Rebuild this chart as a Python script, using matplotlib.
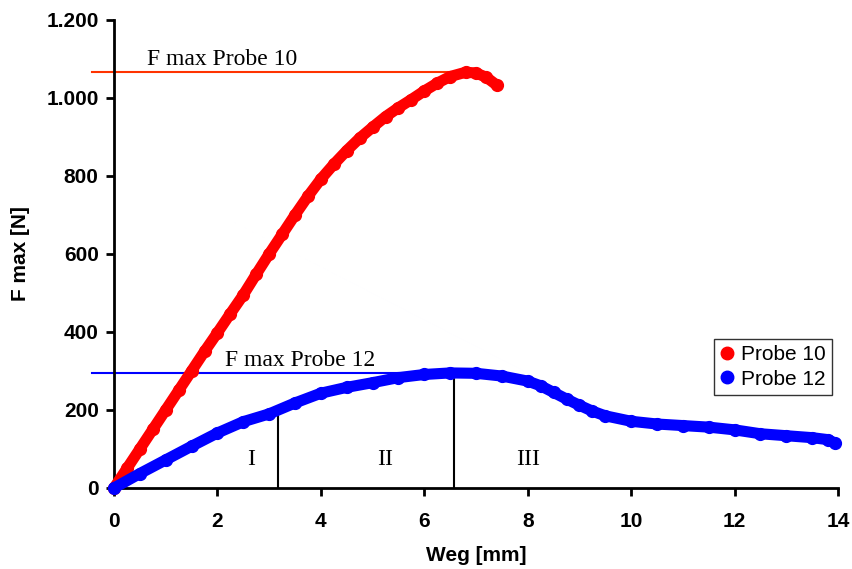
import matplotlib.pyplot as plt
from matplotlib.lines import Line2D

# Probe 10 (Weg in mm, Kraft in N)
weg_10 = [0, 0.25, 0.5, 0.75, 1.0, 1.25, 1.5, 1.75, 2.0, 2.25, 2.5, 2.75, 3.0, 3.25,
          3.5, 3.75, 4.0, 4.25, 4.5, 4.75, 5.0, 5.25, 5.5, 5.75, 6.0, 6.25, 6.5,
          6.8, 7.0, 7.2, 7.4]
kraft_10 = [0, 50, 100, 150, 200, 250, 300, 350, 398, 447, 495, 548, 600, 650,
            700, 748, 792, 830, 865, 897, 925, 952, 975, 996, 1018, 1038, 1055,
            1066, 1064, 1053, 1033]

# Probe 12
weg_12 = [0, 0.5, 1.0, 1.5, 2.0, 2.5, 3.0, 3.5, 4.0, 4.5, 5.0, 5.5, 6.0, 6.5,
          7.0, 7.5, 8.0, 8.25, 8.5, 8.75, 9.0, 9.25, 9.5, 10.0, 10.5, 11.0,
          11.5, 12.0, 12.5, 13.0, 13.5, 13.8, 13.95]
kraft_12 = [0, 37, 72, 107, 141, 170, 190, 218, 243, 258, 270, 283, 291, 295,
            294, 287, 274, 262, 245, 228, 212, 197, 185, 171, 164, 160,
            156, 149, 139, 134, 129, 124, 115]

fmax_10 = 1066
fmax_12 = 295
grenzen = [3.17, 6.58]
grenz_kraft = [185, 296]
bereiche = ["I", "II", "III"]
bereich_x = [2.65, 5.25, 8.0]

fig = plt.figure(figsize=(8.52, 5.69), dpi=100)
ax = fig.add_axes([0.1338, 0.1424, 0.8498, 0.8225])

# horizontal lines for F max
ax.plot([-0.43, 6.8], [fmax_10, fmax_10], color="#ff3300", lw=1.5, clip_on=False, zorder=1)
ax.plot([-0.43, 6.6], [fmax_12, fmax_12], color="#0000ff", lw=1.5, clip_on=False, zorder=1)
ax.text(0.64, fmax_10 + 6, "F max Probe 10", family="Liberation Serif", fontsize=17, va="bottom")
ax.text(2.15, fmax_12 + 6, "F max Probe 12", family="Liberation Serif", fontsize=17, va="bottom")

# section borders
for gx, gy in zip(grenzen, grenz_kraft):
    ax.plot([gx, gx], [0, gy], color="black", lw=1.5, zorder=1)
for name, bx in zip(bereiche, bereich_x):
    ax.text(bx, 72, name, family="Liberation Serif", fontsize=17, ha="center", va="center")

# the curves
ax.plot(weg_10, kraft_10, "o-", color="#ff0000", lw=8, ms=8.5, solid_capstyle="round",
        clip_on=False, zorder=3)
ax.plot(weg_12, kraft_12, "o-", color="#0000ff", lw=8, ms=8.5, solid_capstyle="round",
        clip_on=False, zorder=3)

ax.set_xlim(0, 14)
ax.set_ylim(0, 1200)
ax.set_xticks(range(0, 15, 2))
ax.set_yticks(range(0, 1201, 200))
ax.set_yticklabels(["0", "200", "400", "600", "800", "1.000", "1.200"])
for side in ["top", "right"]:
    ax.spines[side].set_visible(False)
for side in ["left", "bottom"]:
    ax.spines[side].set_linewidth(2)
ax.tick_params(direction="out", length=6, width=2, labelsize=15)
ax.tick_params(axis="x", pad=11)
ax.tick_params(axis="y", pad=5)
for lab in ax.get_xticklabels() + ax.get_yticklabels():
    lab.set_family("Liberation Sans")
    lab.set_fontweight("bold")

ax.set_xlabel("Weg [mm]", family="Liberation Sans", fontweight="bold", fontsize=15, labelpad=11)
ax.set_ylabel("F max [N]", family="Liberation Sans", fontweight="bold", fontsize=15, labelpad=12)

handles = [Line2D([], [], marker="o", ls="none", color="#ff0000", ms=9),
           Line2D([], [], marker="o", ls="none", color="#0000ff", ms=9)]
leg = ax.legend(handles, ["Probe 10", "Probe 12"], loc="upper right",
                bbox_to_anchor=(0.992, 0.318), borderaxespad=0, fancybox=False,
                edgecolor="black", handlelength=0.6, handletextpad=0.4, borderpad=0.3,
                labelspacing=0.25, prop={"family": "Liberation Sans", "size": 15})
leg.get_frame().set_linewidth(1)

fig.savefig("out.png", dpi=100)
